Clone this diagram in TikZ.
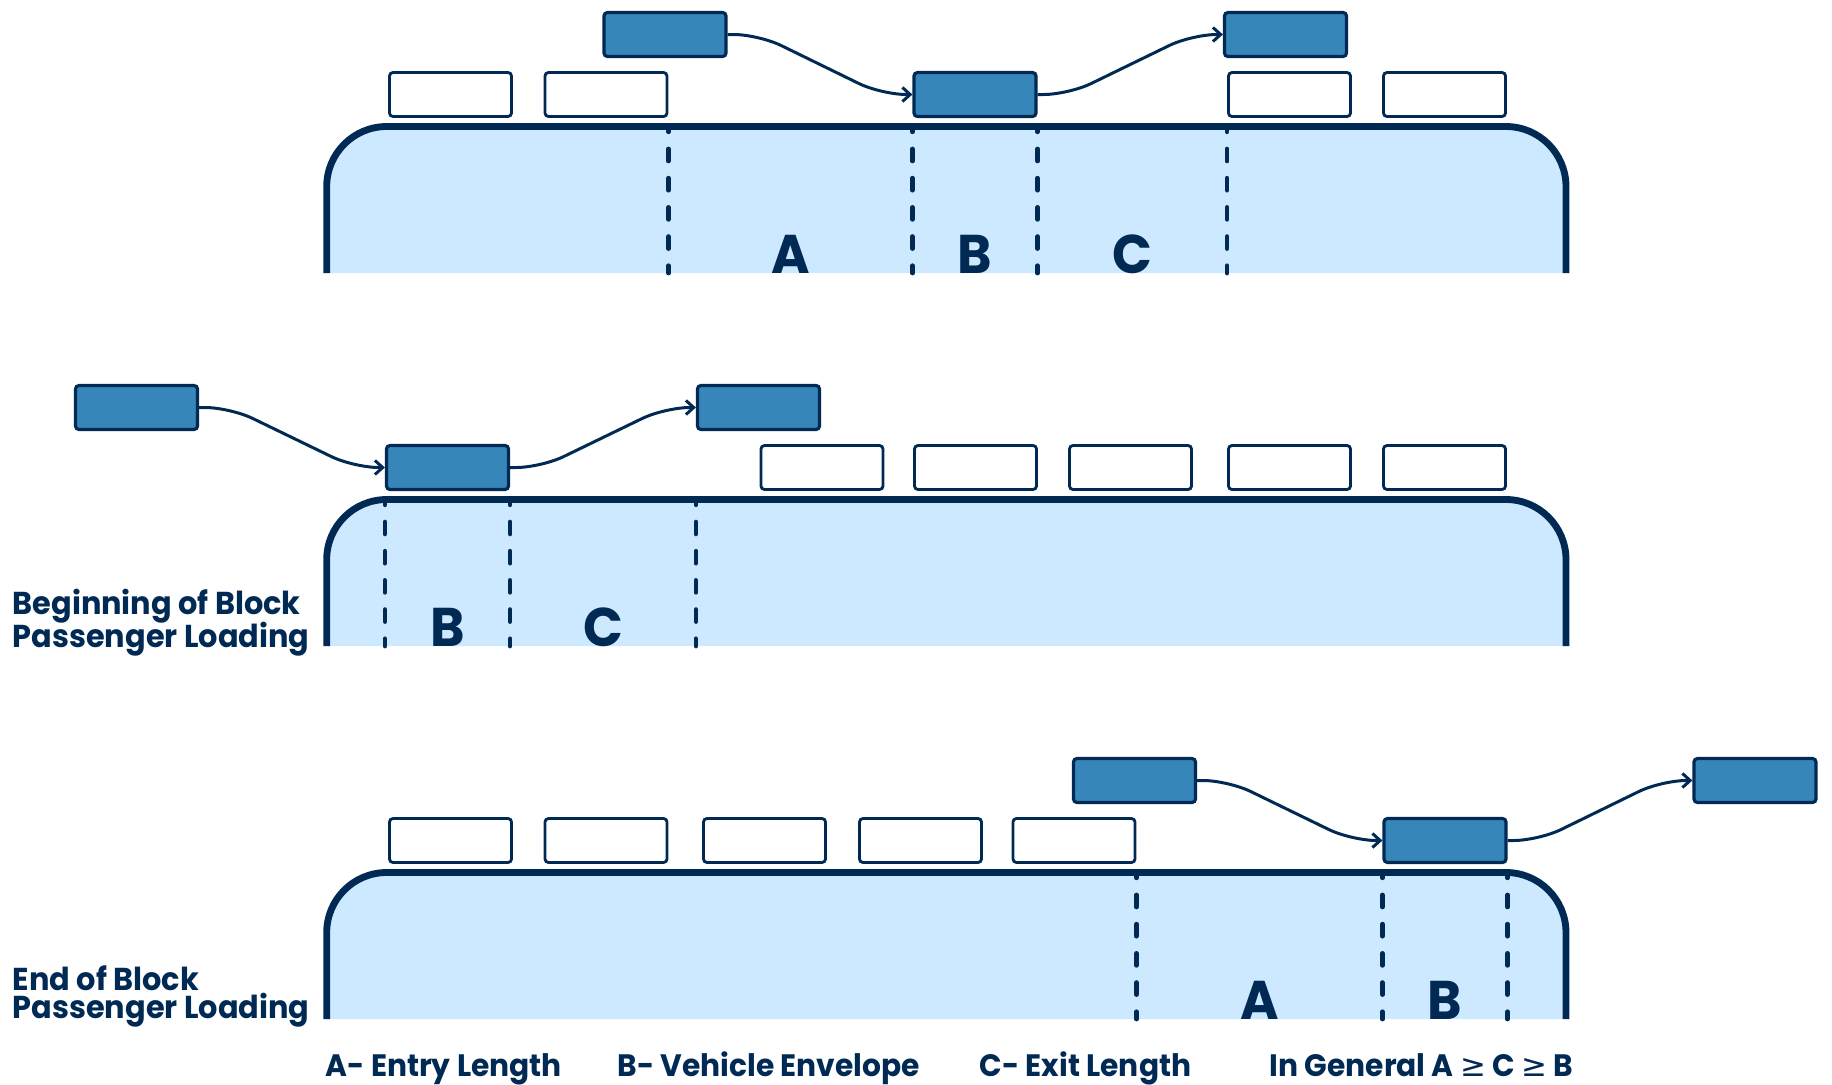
\documentclass[tikz,border=0pt]{standalone}
\usepackage{fontspec}
\setmainfont{Poppins}[FakeStretch=0.96]
\newfontfamily\symfont{DejaVu Sans}
\usepackage{tikz}
\usetikzlibrary{arrows.meta, positioning, calc}
\definecolor{navy}{RGB}{0,42,84}
\definecolor{carblue}{RGB}{55,134,185}
\definecolor{platblue}{RGB}{204,233,255}

\begin{document}
\begin{tikzpicture}[
      x=0.01cm, y=-0.01cm,
      emptycar/.style = {
        rectangle, rounded corners=1pt,
        draw=navy, fill=white, line width=0.8pt,
        minimum width=1.22cm, minimum height=0.44cm, inner sep=0pt
      },
      movecar/.style = {emptycar, fill=carblue, line width=0.9pt},
      platform/.style = {draw=navy, fill=platblue, line width=1.95pt, rounded corners=0.6cm},
      divider/.style = {draw=navy, line width=1.35pt, line cap=round,
        dash pattern=on 3.4pt off 4.9pt, dash phase=1.9pt},
      flow/.style = {-{Straight Barb[length=2.2pt,width=4pt]}, draw=navy,
        line width=0.85pt, rounded corners=0.25cm},
      zone/.style = {font=\fontsize{15.5}{16}\selectfont\bfseries, text=navy,
        anchor=base, inner sep=0pt},
      caption/.style = {font=\fontsize{9}{9.1}\selectfont\bfseries,
        text=navy, align=left, anchor=base west, inner sep=0pt},
      legendtxt/.style = {caption, font=\fontsize{8.8}{9}\selectfont\bfseries}
    ]
      \useasboundingbox (0,0) rectangle (1832,1084);

      % ===================== Panel 1: general case =====================
      \coordinate (p1top) at (0,126.5);
      \coordinate (p1bot) at (0,273);
      \draw[platform] (326.7,273) -- (326.7,126.5) -- (1566,126.5) -- (1566,273);

      \node[emptycar] (p1w1) at (450.5,94.5) {};
      \node[emptycar] (p1w2) at (606,94.5)   {};
      \node[movecar]  (p1in) at (665,34.5)   {};
      \node[movecar]  (p1st) at (975,94.5)   {};
      \node[movecar]  (p1out) at (1285.5,34.5) {};
      \node[emptycar] (p1w3) at (1289.5,94.5) {};
      \node[emptycar] (p1w4) at (1444.5,94.5) {};

      \draw[flow] (p1in.east) -- ++(31,0) -- ($(p1st.west)+(-31,0)$) -- (p1st.west);
      \draw[flow] (p1st.east) -- ++(31,0) -- ($(p1out.west)+(-31,0)$) -- (p1out.west);

      \draw[divider] (p1w2.east |- p1top) -- (p1w2.east |- p1bot);
      \draw[divider] (p1st.west |- p1top) -- (p1st.west |- p1bot);
      \draw[divider] (p1st.east |- p1top) -- (p1st.east |- p1bot);
      \draw[divider] (p1w3.west |- p1top) -- (p1w3.west |- p1bot);

      \node[zone] (p1a) at ($(p1w2.east |- p1bot)!0.5!(p1st.west |- p1bot)$) {A};
      \node[zone] (p1b) at ($(p1st.west |- p1bot)!0.5!(p1st.east |- p1bot)$) {B};
      \node[zone] (p1c) at ($(p1st.east |- p1bot)!0.5!(p1w3.west |- p1bot)$) {C};

      % ===================== Panel 2: beginning of block =====================
      \coordinate (p2top) at (0,499.5);
      \coordinate (p2bot) at (0,646);
      \draw[platform] (326.7,646) -- (326.7,499.5) -- (1566,499.5) -- (1566,646);

      \node[movecar]  (p2in) at (136.5,407.5) {};
      \node[movecar]  (p2st) at (447.5,467.5) {};
      \node[movecar]  (p2out) at (758.5,407.5) {};
      \node[emptycar] (p2w1) at (822,467.5)   {};
      \node[emptycar] (p2w2) at (975.5,467.5) {};
      \node[emptycar] (p2w3) at (1130.5,467.5) {};
      \node[emptycar] (p2w4) at (1289.5,467.5) {};
      \node[emptycar] (p2w5) at (1444.5,467.5) {};

      \draw[flow] (p2in.east) -- ++(31,0) -- ($(p2st.west)+(-31,0)$) -- (p2st.west);
      \draw[flow] (p2st.east) -- ++(31,0) -- ($(p2out.west)+(-31,0)$) -- (p2out.west);

      \draw[divider] (p2st.west |- p2top) -- (p2st.west |- p2bot);
      \draw[divider] (p2st.east |- p2top) -- (p2st.east |- p2bot);
      \draw[divider] (p2out.west |- p2top) -- (p2out.west |- p2bot);

      \node[zone] (p2b) at ($(p2st.west |- p2bot)!0.5!(p2st.east |- p2bot)$) {B};
      \node[zone] (p2c) at ($(p2st.east |- p2bot)!0.5!(p2out.west |- p2bot)$) {C};

      % base anchor sits on the last line
      \node[caption] (cap2) at (12,647) {Beginning of Block\\[-1.4pt]Passenger Loading};

      % ===================== Panel 3: end of block =====================
      \coordinate (p3top) at (0,872.5);
      \coordinate (p3bot) at (0,1019);
      \draw[platform] (326.7,1019) -- (326.7,872.5) -- (1566,872.5) -- (1566,1019);

      \node[emptycar] (p3w1) at (450.5,840.5) {};
      \node[emptycar] (p3w2) at (606,840.5)   {};
      \node[emptycar] (p3w3) at (764.5,840.5) {};
      \node[emptycar] (p3w4) at (920.5,840.5) {};
      \node[emptycar] (p3w5) at (1074,840.5)  {};
      \node[movecar]  (p3in) at (1134.5,780.5) {};
      \node[movecar]  (p3st) at (1445,840.5)  {};
      \node[movecar]  (p3out) at (1755,780.5) {};

      \draw[flow] (p3in.east) -- ++(31,0) -- ($(p3st.west)+(-31,0)$) -- (p3st.west);
      \draw[flow] (p3st.east) -- ++(31,0) -- ($(p3out.west)+(-31,0)$) -- (p3out.west);

      \draw[divider] (p3w5.east |- p3top) -- (p3w5.east |- p3bot);
      \draw[divider] (p3st.west |- p3top) -- (p3st.west |- p3bot);
      \draw[divider] (p3st.east |- p3top) -- (p3st.east |- p3bot);

      \node[zone] (p3a) at ($(p3w5.east |- p3bot)!0.5!(p3st.west |- p3bot)$) {A};
      \node[zone] (p3b) at ($(p3st.west |- p3bot)!0.5!(p3st.east |- p3bot)$) {B};

      \node[caption] (cap3) at (12,1018) {End of Block\\[-1.4pt]Passenger Loading};

      % ===================== Legend =====================
      \node[legendtxt] (keya) at (325,1076)  {A- Entry Length};
      \node[legendtxt] (keyb) at (617,1076)  {B- Vehicle Envelope};
      \node[legendtxt] (keyc) at (979,1076)  {C- Exit Length};
      \node[legendtxt] (keyg) at (1269,1076) {In General A {\symfont\mdseries ≥} C {\symfont\mdseries ≥} B};

    \end{tikzpicture}
\end{document}
